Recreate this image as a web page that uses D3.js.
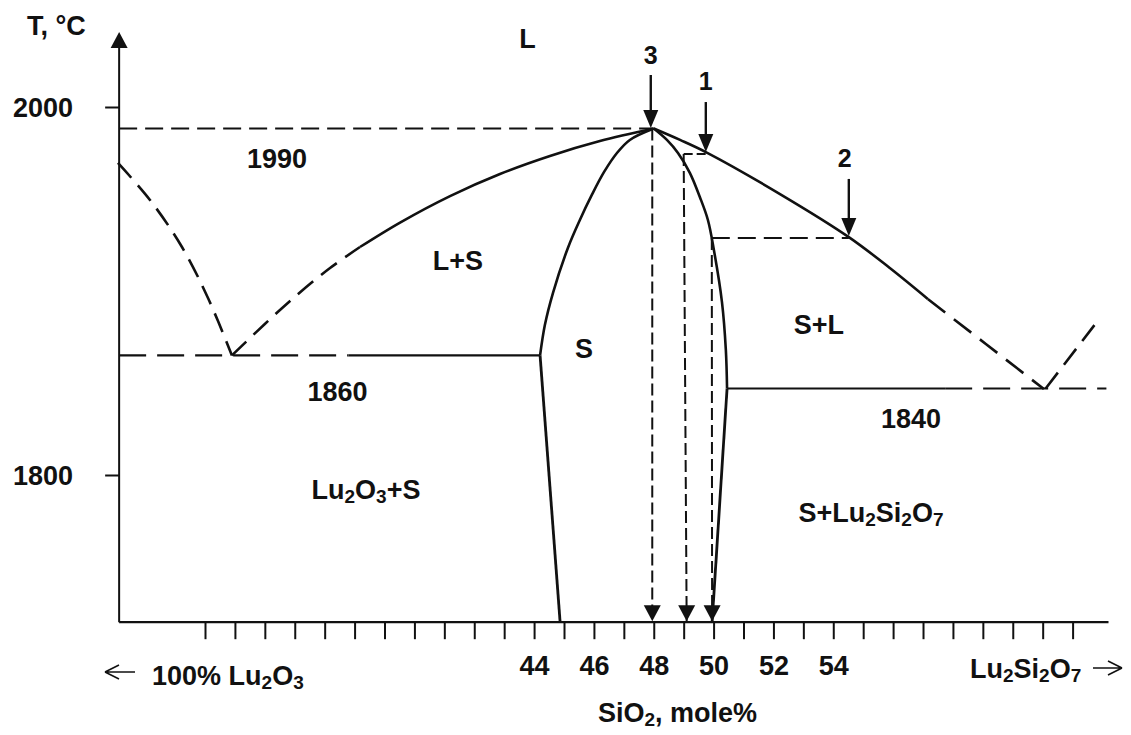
<!DOCTYPE html>
<html><head><meta charset="utf-8">
<script src="https://cdn.jsdelivr.net/npm/d3@7"></script>
<style>
html,body{margin:0;padding:0;background:#fff;}
svg{display:block;background:#fff;}
text{font-family:"Liberation Sans",Arial,Helvetica,sans-serif;font-weight:bold;fill:#111;}
</style></head><body>
<svg id="chart" width="1131" height="735"></svg>
<script>
// ---------------- data (SiO2 mole %, temperature °C) ----------------
const compTicks = [33,34,35,36,37,38,39,40,41,42,43,44,45,46,47,48,49,50,51,52,53,54,55,56,57,58,59,60,61,62];
const compTickLabels = [44,46,48,50,52,54];
const tempTicks = [1800,2000];
const compAxisRange = [30.13, 63.2];
const tempAxisRange = [1720, 2040.8];

// liquidus branches
const liquidusLu2O3Side   = [[30.09,1969.6],[31.16,1949.5],[32.23,1923.9],[33.10,1896.2],[33.90,1865.0]];
const liquidusLeftDashed  = [[33.90,1865.0],[35.00,1882.1],[36.07,1897.8],[37.18,1912.5],[38.18,1923.9]];
const liquidusLeftSolid   = [[38.18,1923.9],[39.52,1937.2],[41.19,1951.6],[42.86,1963.6],[44.53,1973.4],[46.20,1981.5],[48.0,1988.3]];
const liquidusRightSolid  = [[48.0,1988.3],[48.88,1982.1],[49.74,1975.5],[52.22,1952.7],[54.52,1929.3],[55.89,1912.5],[57.16,1895.7]];
const liquidusRightDashed = [[57.16,1895.7],[59.10,1871.2],[61.04,1846.7]];
const liquidusLu2Si2O7Side = [[61.10,1847.0],[62.91,1885.3]];
// solid solution S boundaries
const solidusLeft  = [[48.0,1988.3],[47.20,1982.1],[46.77,1975.0],[46.34,1964.7],[45.93,1952.2],[45.53,1938.6],[45.13,1923.4],[44.63,1898.9],[44.36,1881.5],[44.20,1865.0]];
const solvusLeft   = [[44.20,1865.0],[44.87,1720]];
const solidusRight = [[48.0,1988.3],[48.44,1982.1],[48.81,1975.0],[49.21,1964.1],[49.54,1951.1],[49.81,1938.6],[50.01,1922.3],[50.28,1894.0],[50.41,1867.9],[50.45,1847.0]];
const solvusRight  = [[50.45,1847.0],[49.95,1720]];
// invariant lines
const eutectic1860Dashed = [[30.13,1865.0],[37.80,1865.0]];
const eutectic1860Solid  = [[37.80,1865.0],[44.20,1865.0]];
const eutectic1840Solid  = [[50.45,1847.0],[57.74,1847.0]];
const eutectic1840Dashed = [[57.74,1847.0],[63.13,1847.0]];
// construction lines
const meltLine1990 = [[30.13,1988.3],[47.95,1988.3]];
const tieLine1 = [[49.00,1974.5],[49.74,1974.5]];
const tieLine2 = [[49.94,1928.8],[54.52,1928.8]];
const dropLines = [
  [[47.95,1988.3],[47.95,1720]],
  [[49.00,1974.5],[49.10,1720]],
  [[49.94,1928.8],[49.95,1720]]
];
const bottomArrowComps = [47.95, 49.10, 49.95];
const topArrows = [
  {label:"3", comp:47.90, from:2017.4, to:1988.6, labelT:2023.4},
  {label:"1", comp:49.74, from:2002.7, to:1975.5, labelT:2009.2},
  {label:"2", comp:54.52, from:1960.9, to:1929.9, labelT:1967.4}
];
const regionLabels = [
  {parts:[["L"]], comp:43.78, temp:2032.1},
  {parts:[["1990"]], comp:35.41, temp:1966.8},
  {parts:[["L+S"]], comp:41.45, temp:1911.4},
  {parts:[["S"]], comp:45.67, temp:1863.6},
  {parts:[["1860"]], comp:37.43, temp:1840.2},
  {parts:[["S+L"]], comp:53.52, temp:1876.6},
  {parts:[["1840"]], comp:56.60, temp:1825.5},
  {parts:[["Lu"],["2",1],["O"],["3",1],["+S"]], comp:38.38, temp:1787.0},
  {parts:[["S+Lu"],["2",1],["Si"],["2",1],["O"],["7",1]], comp:55.26, temp:1774.5}
];

// ---------------- scales ----------------
const svg = d3.select("#chart");
const x = d3.scaleLinear().domain([33, 62]).range([205, 1072.6]);
const y = d3.scaleLinear().domain([1800, 2000]).range([475, 107]);
const ink = "#111";

const curve = d3.line().x(d => x(d[0])).y(d => y(d[1])).curve(d3.curveCatmullRom.alpha(0.5));
const straight = d3.line().x(d => x(d[0])).y(d => y(d[1]));

function draw(data, gen, width, dash) {
  svg.append("path").attr("d", gen(data)).attr("fill", "none")
    .attr("stroke", ink).attr("stroke-width", width)
    .attr("stroke-linecap", "butt").attr("stroke-linejoin", "round")
    .attr("stroke-dasharray", dash || null);
}

function rich(sel, parts, size) {
  let lowered = false;
  parts.forEach(p => {
    const t = sel.append("tspan").text(p[0]);
    if (p[1]) {
      t.attr("font-size", Math.round(size * 0.7));
      if (!lowered) { t.attr("dy", 4); lowered = true; }
    } else if (lowered) { t.attr("dy", -4); lowered = false; }
  });
}

// ---------------- axes ----------------
const x0 = x(compAxisRange[0]), yb = y(tempAxisRange[0]);
svg.append("line").attr("x1", x0).attr("x2", x(compAxisRange[1]))
  .attr("y1", yb).attr("y2", yb).attr("stroke", ink).attr("stroke-width", 2.2);
const xAxis = d3.axisBottom(x).tickValues(compTicks).tickSize(17).tickPadding(17)
  .tickFormat(d => compTickLabels.includes(d) ? String(d) : "");
const gx = svg.append("g").attr("transform", `translate(0,${yb})`).call(xAxis);
gx.select(".domain").remove();
gx.selectAll(".tick line").attr("stroke", ink).attr("stroke-width", 2);
gx.selectAll(".tick text").attr("font-size", 27).attr("font-family", null).attr("fill", ink);

svg.append("line").attr("x1", x0).attr("x2", x0)
  .attr("y1", yb).attr("y2", y(2032)).attr("stroke", ink).attr("stroke-width", 2);
const tipY = y(tempAxisRange[1]);
svg.append("path").attr("d", `M${x0},${tipY}L${x0-8.5},${tipY+16}L${x0+8.5},${tipY+16}Z`).attr("fill", ink);
const yAxis = d3.axisLeft(y).tickValues(tempTicks).tickSize(14).tickPadding(32).tickFormat(d3.format("d"));
const gy = svg.append("g").attr("transform", `translate(${x0},0)`).call(yAxis);
gy.select(".domain").remove();
gy.selectAll(".tick line").attr("stroke", ink).attr("stroke-width", 2);
gy.selectAll(".tick text").attr("font-size", 27).attr("font-family", null).attr("fill", ink).attr("dy", "0.36em");

// axis titles
svg.append("text").attr("x", 27).attr("y", 35).attr("font-size", 27).text("T, °C");
const t1 = svg.append("text").attr("x", 152).attr("y", 685).attr("font-size", 27);
rich(t1, [["100% Lu"],["2",1],["O"],["3",1]], 27);
const t2 = svg.append("text").attr("x", 970).attr("y", 678).attr("font-size", 27);
rich(t2, [["Lu"],["2",1],["Si"],["2",1],["O"],["7",1]], 27);
const t3 = svg.append("text").attr("x", 598).attr("y", 722).attr("font-size", 27);
rich(t3, [["SiO"],["2",1],[", mole%"]], 27);
svg.append("path").attr("d", "M105,672H135M105,672L119,665M105,672L119,679")
  .attr("stroke", ink).attr("stroke-width", 1.6).attr("fill", "none");
svg.append("path").attr("d", "M1093,668H1122M1122,668L1108,661M1122,668L1108,675")
  .attr("stroke", ink).attr("stroke-width", 1.6).attr("fill", "none");

// ---------------- construction (dashed) lines ----------------
draw(meltLine1990, straight, 2, "18,8");
draw(tieLine1, straight, 2, "9,4");
draw(tieLine2, straight, 2, "18,8");
dropLines.forEach(d => draw(d, straight, 2, "12,5"));

// ---------------- phase boundaries ----------------
draw(liquidusLu2O3Side, curve, 2.6, "20,10");
draw(liquidusLeftDashed, curve, 2.6, "20,10");
draw(liquidusLeftSolid, curve, 2.6);
draw(liquidusRightSolid, curve, 2.6);
draw(liquidusRightDashed, straight, 2.6, "22,11");
draw(liquidusLu2Si2O7Side, straight, 2.6, "20,10");
draw(solidusLeft, curve, 2.6);
draw(solvusLeft, straight, 2.8);
draw(solidusRight, curve, 2.6);
draw(solvusRight, straight, 2.8);
draw(eutectic1860Dashed, straight, 2.2, "27,11");
draw(eutectic1860Solid, straight, 2.2);
draw(eutectic1840Solid, straight, 2.2);
draw(eutectic1840Dashed, straight, 2.2, "27,11");

// ---------------- arrows ----------------
bottomArrowComps.forEach(c => {
  const cx = x(c);
  svg.append("path").attr("d", `M${cx},${yb-1}L${cx-8.5},${yb-17}L${cx+8.5},${yb-17}Z`).attr("fill", ink);
});
topArrows.forEach(a => {
  const cx = x(a.comp), y1 = y(a.from), y2 = y(a.to);
  svg.append("line").attr("x1", cx).attr("x2", cx).attr("y1", y1).attr("y2", y2 - 14)
    .attr("stroke", ink).attr("stroke-width", 2.4);
  svg.append("path").attr("d", `M${cx},${y2}L${cx-7.5},${y2-18}L${cx+7.5},${y2-18}Z`).attr("fill", ink);
  svg.append("text").attr("x", cx - (a.label === "2" ? 4 : 0)).attr("y", y(a.labelT))
    .attr("text-anchor", "middle").attr("font-size", 25).text(a.label);
});

// ---------------- region labels ----------------
regionLabels.forEach(l => {
  const t = svg.append("text").attr("x", x(l.comp)).attr("y", y(l.temp))
    .attr("text-anchor", "middle").attr("font-size", 27);
  rich(t, l.parts, 27);
});
</script>
</body></html>
